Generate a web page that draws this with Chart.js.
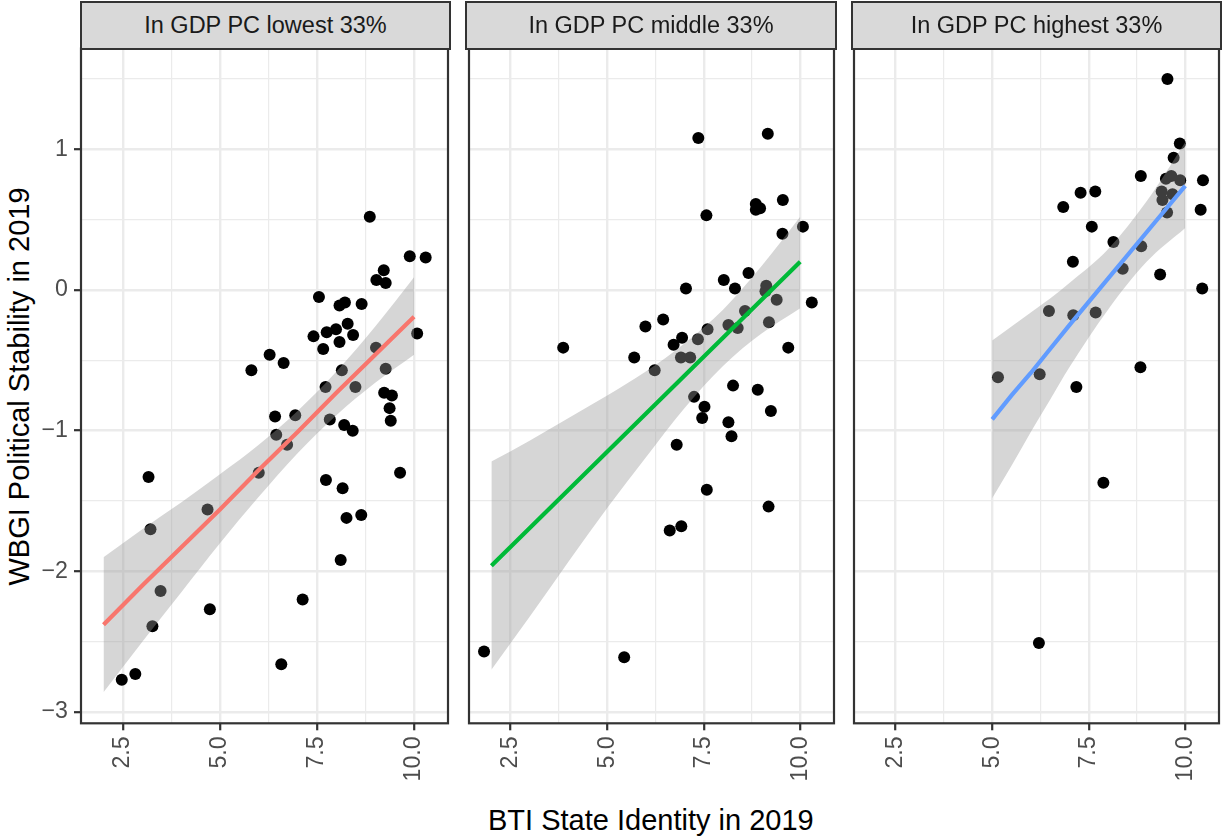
<!DOCTYPE html>
<html>
<head>
<meta charset="utf-8">
<script src="https://cdn.jsdelivr.net/npm/chart.js@4.4.1/dist/chart.umd.min.js"></script>
<style>
  html, body { margin: 0; padding: 0; background: #fff; }
  #wrap { position: relative; width: 1224px; height: 838px; overflow: hidden; font-family: 'Liberation Sans', Arial, sans-serif; }
  #wrap canvas { position: absolute; top: 0; }
  .strip { position: absolute; box-sizing: border-box; background: #d9d9d9; border: 2.2px solid #333; color: #1a1a1a;
           font-size: 23.5px; display: flex; align-items: center; justify-content: center; z-index: 2; }
  .axtitle { position: absolute; font-size: 29px; line-height: 29px; color: #000; white-space: nowrap; }
</style>
</head>
<body>
<div id="wrap">
  <div class="axtitle" id="ytitle">WBGI Political Stability in 2019</div>
  <div class="axtitle" id="xtitle">BTI State Identity in 2019</div>
</div>
<script>
// —————— DATA ——————
const panelTitles = ['In GDP PC lowest 33%', 'In GDP PC middle 33%', 'In GDP PC highest 33%'];

const xTicks = [2.5, 5.0, 7.5, 10.0];
const xTickLabels = ['2.5', '5.0', '7.5', '10.0'];
const xMinorTicks = [3.75, 6.25, 8.75];
const yTicks = [-3, -2, -1, 0, 1];
const yTickLabels = ['−3', '−2', '−1', '0', '1'];
const yMinorTicks = [-2.5, -1.5, -0.5, 0.5, 1.5];

// lowest 33% (jittered points)
const lowX = [8.86, 9.89, 10.30, 9.22, 9.03, 9.27, 7.55, 8.08, 8.22, 8.65, 8.29, 7.99, 7.75, 8.43, 7.41, 10.08,
  7.66, 8.08, 9.02, 6.28, 6.64, 5.81, 8.14, 9.27, 7.72, 8.49, 9.23, 9.43, 9.37, 9.40, 6.42, 6.94, 7.83, 8.20,
  8.42, 6.45, 6.73, 6.00, 9.64, 3.16, 7.73, 8.16, 4.68, 8.26, 8.64, 3.21, 8.11, 3.47, 4.74, 7.13, 3.26, 6.58,
  2.82, 2.47];
const lowY = [0.52, 0.24, 0.23, 0.14, 0.07, 0.05, -0.05, -0.11, -0.09, -0.10, -0.24, -0.28, -0.30, -0.32, -0.33, -0.31,
  -0.42, -0.37, -0.41, -0.46, -0.52, -0.57, -0.57, -0.56, -0.69, -0.69, -0.73, -0.75, -0.84, -0.93, -0.90, -0.89, -0.92, -0.96,
  -1.00, -1.03, -1.10, -1.30, -1.30, -1.33, -1.35, -1.41, -1.56, -1.62, -1.60, -1.70, -1.92, -2.14, -2.27, -2.20, -2.39, -2.66,
  -2.73, -2.77];

// middle 33%
const midX = [7.36, 9.16, 8.85, 8.96, 8.85, 9.55, 7.57, 10.07, 9.54, 8.66, 8.02, 8.31, 7.04, 9.12, 9.10, 10.30,
  9.39, 8.57, 8.14, 8.38, 9.19, 7.60, 7.35, 6.45, 5.99, 6.94, 6.72, 3.86, 9.69, 5.70, 6.91, 7.15, 6.23, 8.26,
  8.90, 7.25, 7.52, 7.46, 9.24, 8.14, 8.22, 6.80, 7.58, 9.18, 6.62, 6.92, 1.81, 5.44];
const midY = [1.08, 1.11, 0.61, 0.58, 0.57, 0.64, 0.53, 0.45, 0.40, 0.12, 0.07, 0.01, 0.01, 0.03, -0.01, -0.09,
  -0.07, -0.15, -0.25, -0.27, -0.23, -0.28, -0.35, -0.21, -0.26, -0.34, -0.39, -0.41, -0.41, -0.48, -0.48, -0.48, -0.57, -0.68,
  -0.71, -0.76, -0.83, -0.91, -0.86, -0.94, -1.04, -1.10, -1.42, -1.54, -1.71, -1.68, -2.57, -2.61];

// highest 33%
const highX = [9.54, 9.86, 9.70, 8.85, 10.46, 9.50, 9.64, 9.87, 7.67, 7.29, 6.84, 9.39, 9.67, 9.41, 9.53, 10.40,
  7.58, 8.14, 8.86, 7.09, 8.38, 9.35, 10.44, 6.47, 7.10, 7.68, 5.15, 6.23, 7.18, 8.84, 7.88, 6.21];
const highY = [1.50, 1.04, 0.94, 0.81, 0.78, 0.79, 0.81, 0.78, 0.70, 0.69, 0.59, 0.70, 0.68, 0.64, 0.55, 0.57,
  0.45, 0.34, 0.31, 0.20, 0.15, 0.11, 0.01, -0.15, -0.18, -0.16, -0.62, -0.60, -0.69, -0.55, -1.37, -2.51];

// linear fits with 95% band, read at a few x positions
const lowFitX = [2, 3, 4, 5, 6, 7, 8, 9, 10];
const lowFit = [-2.38, -2.10, -1.83, -1.56, -1.28, -1.01, -0.73, -0.46, -0.19];
const lowUpper = [-1.90, -1.70, -1.51, -1.31, -1.10, -0.86, -0.58, -0.26, 0.09];
const lowLower = [-2.86, -2.50, -2.15, -1.80, -1.47, -1.16, -0.89, -0.66, -0.46];

const midFitX = [2, 3, 4, 5, 6, 7, 8, 9, 10];
const midFit = [-1.96, -1.69, -1.42, -1.15, -0.88, -0.61, -0.34, -0.07, 0.20];
const midUpper = [-1.22, -1.07, -0.91, -0.75, -0.58, -0.38, -0.14, 0.17, 0.52];
const midLower = [-2.70, -2.32, -1.93, -1.55, -1.19, -0.84, -0.54, -0.31, -0.13];

const highFitX = [5, 5.5, 6, 6.5, 7, 8, 9, 10];
const highFit = [-0.92, -0.75, -0.59, -0.42, -0.25, 0.08, 0.41, 0.74];
const highUpper = [-0.36, -0.26, -0.16, -0.06, 0.05, 0.29, 0.63, 1.05];
const highLower = [-1.48, -1.25, -1.01, -0.78, -0.55, -0.14, 0.20, 0.44];

// —————— LAYOUT ——————
const panelLeft = [81, 466.5, 852];
const panelW = 369;
const panelTop = 48.5;
const panelBottom = 723.3;
const xRange = [1.42, 10.875];
const yRange = [-3.08, 1.716];
const lineColors = ['#F8766D', '#00BA38', '#619CFF'];

const panels = [
  { px: lowX, py: lowY, fx: lowFitX, fit: lowFit, up: lowUpper, lo: lowLower },
  { px: midX, py: midY, fx: midFitX, fit: midFit, up: midUpper, lo: midLower },
  { px: highX, py: highY, fx: highFitX, fit: highFit, up: highUpper, lo: highLower }
];

Chart.defaults.font.family = "'Liberation Sans', Arial, sans-serif";

const pts = (xs, ys) => xs.map((x, i) => ({ x, y: ys[i] }));

// draws the dark frame round each panel, like theme_bw
const panelBorder = {
  id: 'panelBorder',
  afterDraw(chart) {
    const a = chart.chartArea;
    const c = chart.ctx;
    c.save();
    c.strokeStyle = '#333333';
    c.lineWidth = 2.2;
    c.strokeRect(a.left, a.top, a.right - a.left, a.bottom - a.top);
    c.restore();
  }
};

function buildTicks(major, minor) {
  return scale => {
    scale.ticks = major.concat(minor).sort((a, b) => a - b).map(v => ({ value: v }));
  };
}

const wrap = document.getElementById('wrap');

panels.forEach((p, i) => {
  const first = i === 0;
  const axW = first ? 81 : 4;

  const canvas = document.createElement('canvas');
  canvas.width = axW + panelW + 4;
  canvas.height = 838;
  canvas.style.left = (panelLeft[i] - axW) + 'px';
  wrap.appendChild(canvas);

  const strip = document.createElement('div');
  strip.className = 'strip';
  strip.textContent = panelTitles[i];
  strip.style.left = (panelLeft[i] - 1.1) + 'px';
  strip.style.top = (2.5 - 1.1) + 'px';
  strip.style.width = (panelW + 2.2) + 'px';
  strip.style.height = (46 + 2.2) + 'px';
  wrap.appendChild(strip);

  new Chart(canvas, {
    type: 'scatter',
    data: {
      datasets: [
        {
          data: pts(p.px, p.py),
          pointRadius: 6,
          pointHoverRadius: 6,
          pointBackgroundColor: '#000',
          pointBorderWidth: 0,
          order: 4
        },
        {
          type: 'line',
          data: pts(p.fx, p.up),
          borderColor: 'rgba(0,0,0,0)',
          borderWidth: 0,
          pointRadius: 0,
          cubicInterpolationMode: 'monotone',
          backgroundColor: 'rgba(153,153,153,0.4)',
          fill: '+1',
          order: 3
        },
        {
          type: 'line',
          data: pts(p.fx, p.lo),
          borderColor: 'rgba(0,0,0,0)',
          borderWidth: 0,
          pointRadius: 0,
          cubicInterpolationMode: 'monotone',
          fill: false,
          order: 2
        },
        {
          type: 'line',
          data: pts(p.fx, p.fit),
          borderColor: lineColors[i],
          borderWidth: 4.2,
          borderCapStyle: 'butt',
          pointRadius: 0,
          tension: 0,
          fill: false,
          order: 1
        }
      ]
    },
    options: {
      responsive: false,
      animation: false,
      devicePixelRatio: 1,
      events: [],
      layout: { padding: { top: panelTop, right: 4, bottom: 0, left: 0 } },
      plugins: { legend: { display: false }, tooltip: { enabled: false } },
      scales: {
        x: {
          type: 'linear',
          min: xRange[0],
          max: xRange[1],
          afterBuildTicks: buildTicks(xTicks, xMinorTicks),
          afterFit: scale => { scale.height = 838 - panelBottom; },
          border: { display: false },
          grid: {
            color: '#EBEBEB',
            lineWidth: ctx => (xTicks.includes(ctx.tick.value) ? 2.4 : 1.2),
            tickColor: ctx => (xTicks.includes(ctx.tick.value) ? '#333333' : 'rgba(0,0,0,0)'),
            tickWidth: 2.2,
            tickLength: 7
          },
          ticks: {
            autoSkip: false,
            minRotation: 90,
            maxRotation: 90,
            padding: 6,
            color: '#4D4D4D',
            font: { size: 23.2 },
            callback: v => {
              const k = xTicks.indexOf(v);
              return k >= 0 ? xTickLabels[k] : '';
            }
          }
        },
        y: {
          type: 'linear',
          min: yRange[0],
          max: yRange[1],
          afterBuildTicks: buildTicks(yTicks, yMinorTicks),
          afterFit: scale => { scale.width = axW; },
          border: { display: false },
          grid: {
            color: '#EBEBEB',
            lineWidth: ctx => (yTicks.includes(ctx.tick.value) ? 2.4 : 1.2),
            tickColor: ctx => (yTicks.includes(ctx.tick.value) ? '#333333' : 'rgba(0,0,0,0)'),
            tickWidth: 2.2,
            tickLength: 7,
            drawTicks: first
          },
          ticks: {
            display: first,
            autoSkip: false,
            padding: 6,
            color: '#4D4D4D',
            font: { size: 23.2 },
            callback: v => {
              const k = yTicks.indexOf(v);
              return k >= 0 ? yTickLabels[k] : '';
            }
          }
        }
      }
    },
    plugins: [panelBorder]
  });
});

// —————— AXIS TITLES ——————
const yt = document.getElementById('ytitle');
yt.style.left = (19 - yt.offsetWidth / 2) + 'px';
yt.style.top = (386 - 14.5) + 'px';
yt.style.transform = 'rotate(-90deg)';

const xt = document.getElementById('xtitle');
xt.style.left = ((panelLeft[0] + panelLeft[2] + panelW) / 2 - xt.offsetWidth / 2) + 'px';
xt.style.top = '806.3px';
</script>
</body>
</html>
